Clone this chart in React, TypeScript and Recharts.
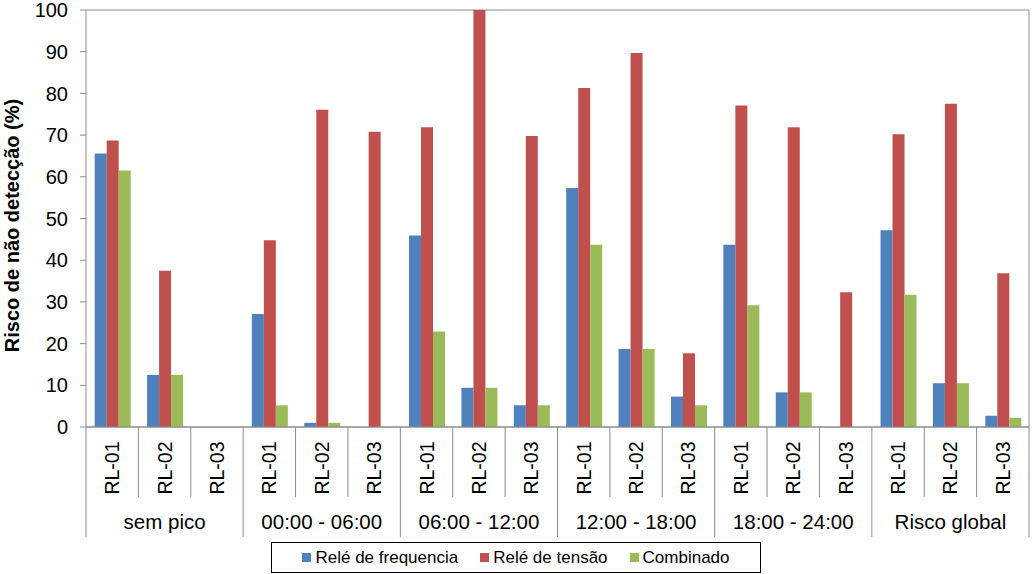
import React from 'react';
import { BarChart, Bar, XAxis, YAxis, CartesianGrid, Legend } from 'recharts';

const groups = ['sem pico', '00:00 - 06:00', '06:00 - 12:00', '12:00 - 18:00', '18:00 - 24:00', 'Risco global'];
const relays = ['RL-01', 'RL-02', 'RL-03'];
const freq = [65.6, 12.5, 0, 27.1, 1.0, 0, 45.9, 9.4, 5.2, 57.3, 18.7, 7.3, 43.7, 8.3, 0, 47.2, 10.5, 2.7];
const tensao = [68.7, 37.5, 0, 44.8, 76.1, 70.8, 71.9, 100, 69.8, 81.3, 89.7, 17.7, 77.1, 71.9, 32.3, 70.2, 77.5, 36.9];
const comb = [61.5, 12.5, 0, 5.2, 1.0, 0, 22.9, 9.4, 5.2, 43.7, 18.7, 5.2, 29.2, 8.3, 0, 31.7, 10.5, 2.2];
const yTicks = [0, 10, 20, 30, 40, 50, 60, 70, 80, 90, 100];

const seriesNames = ['Relé de frequencia', 'Relé de tensão', 'Combinado'];
const colors = ['#4F81BD', '#C0504D', '#9BBB59'];

const data = freq.map((f, i) => ({
  id: `${Math.floor(i / 3)}-${i % 3}`,
  rl: relays[i % 3],
  group: groups[Math.floor(i / 3)],
  freq: f,
  tensao: tensao[i],
  comb: comb[i],
}));

const FONT = '"Liberation Sans", Arial, sans-serif';
const GRID = '#8c8c8c';

function XTick(props: any) {
  const { x, y, payload } = props;
  const i = props.index ?? payload.index;
  const half = payload.offset ?? 26.2;
  const d = data[i];
  const groupStart = i % 3 === 0;
  return (
    <g>
      <line x1={x - half} x2={x - half} y1={y} y2={y + (groupStart ? 110 : 70)} stroke={GRID} strokeWidth={1} />
      {i === data.length - 1 && (
        <line x1={x + half} x2={x + half} y1={y} y2={y + 110} stroke={GRID} strokeWidth={1} />
      )}
      <text
        x={x}
        y={y + 41}
        transform={`rotate(-90, ${x}, ${y + 41})`}
        textAnchor="middle"
        dominantBaseline="central"
        fontSize={19.5}
        fontFamily={FONT}
        fill="#000"
      >
        {d.rl}
      </text>
      {i % 3 === 1 && (
        <text x={x} y={y + 102} textAnchor="middle" fontSize={20.5} fontFamily={FONT} fill="#000">
          {d.group}
        </text>
      )}
    </g>
  );
}

function YLabel(props: any) {
  const vb = props.viewBox || { x: 0, y: 10, width: 86, height: 417 };
  const cx = vb.x + 12;
  const cy = vb.y + vb.height / 2 + 7;
  return (
    <text
      x={cx}
      y={cy}
      transform={`rotate(-90, ${cx}, ${cy})`}
      textAnchor="middle"
      dominantBaseline="central"
      fontSize={20}
      fontWeight="bold"
      fontFamily={FONT}
      fill="#000"
    >
      Risco de não detecção (%)
    </text>
  );
}

function LegendBox() {
  return (
    <div
      style={{
        boxSizing: 'border-box',
        width: 490,
        height: 31,
        border: '1px solid #000',
        display: 'flex',
        alignItems: 'center',
        justifyContent: 'center',
        gap: 22,
        fontFamily: FONT,
        fontSize: 17,
        color: '#000',
        background: '#fff',
      }}
    >
      {seriesNames.map((n, k) => (
        <div key={n} style={{ display: 'flex', alignItems: 'center' }}>
          <span style={{ display: 'inline-block', width: 9, height: 9, background: colors[k], marginRight: 4 }} />
          <span>{n}</span>
        </div>
      ))}
    </div>
  );
}

export default function App() {
  return (
    <div style={{ position: 'absolute', left: 0, top: 0, width: 1032, height: 574, background: '#fff' }}>
      <BarChart
        width={1032}
        height={574}
        data={data}
        margin={{ top: 10, right: 2, left: 0, bottom: 1 }}
        barCategoryGap="16.6%"
        barGap={0}
      >
        <CartesianGrid vertical={false} stroke={GRID} strokeWidth={1} />
        <XAxis
          dataKey="id"
          height={115}
          interval={0}
          tickLine={false}
          tickSize={0}
          tickMargin={0}
          axisLine={{ stroke: GRID }}
          tick={<XTick />}
        />
        <YAxis
          yAxisId="left"
          width={86}
          domain={[0, 100]}
          ticks={yTicks}
          interval={0}
          tickSize={6}
          tickMargin={12}
          axisLine={{ stroke: GRID }}
          tickLine={{ stroke: GRID }}
          tick={{ fontSize: 20, fontFamily: FONT, fill: '#000' }}
          label={<YLabel />}
        />
        <YAxis
          yAxisId="right"
          orientation="right"
          width={1}
          domain={[0, 100]}
          tick={false}
          tickLine={false}
          axisLine={{ stroke: GRID }}
        />
        <Legend verticalAlign="bottom" align="center" content={<LegendBox />} wrapperStyle={{ left: 271 }} />
        <Bar yAxisId="left" dataKey="freq" name={seriesNames[0]} fill={colors[0]} isAnimationActive={false} />
        <Bar yAxisId="left" dataKey="tensao" name={seriesNames[1]} fill={colors[1]} isAnimationActive={false} />
        <Bar yAxisId="left" dataKey="comb" name={seriesNames[2]} fill={colors[2]} isAnimationActive={false} />
      </BarChart>
    </div>
  );
}
